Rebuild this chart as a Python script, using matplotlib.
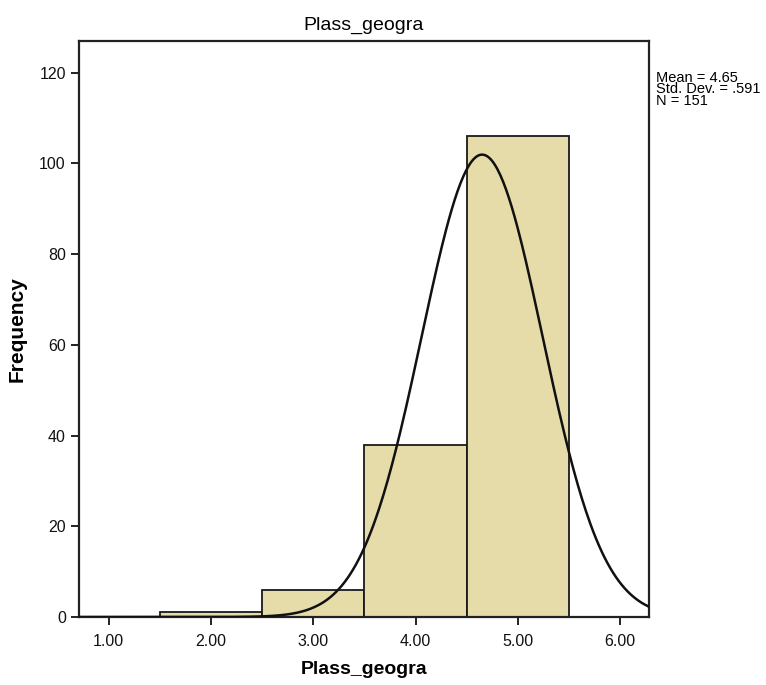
import numpy as np
import matplotlib
matplotlib.use('Agg')
import matplotlib.pyplot as plt

# Histogram bins (centres) and counts
bin_centers = [2.0, 3.0, 4.0, 5.0]
counts = [1, 6, 38, 106]
mean, std_dev, n = 4.65, 0.591, 151
bin_width = 1.0
x_ticks = [1.0, 2.0, 3.0, 4.0, 5.0, 6.0]
y_ticks = [0, 20, 40, 60, 80, 100, 120]

plt.rcParams['font.family'] = ['Liberation Sans Narrow', 'DejaVu Sans Condensed',
                               'Liberation Sans', 'DejaVu Sans']

fig = plt.figure(figsize=(7.66, 6.85), dpi=100)
ax = fig.add_axes([0.1031, 0.0993, 0.744, 0.841])

ax.bar(bin_centers, counts, width=bin_width, color='#e6dcaa',
       edgecolor='#1a1a1a', linewidth=1.3, zorder=2)

# fitted normal curve scaled to the histogram
x_lo, x_hi = 0.71, 6.28
xs = np.linspace(x_lo, x_hi, 400)
ys = n * bin_width / (std_dev * np.sqrt(2 * np.pi)) * np.exp(-0.5 * ((xs - mean) / std_dev) ** 2)
ax.plot(xs, ys, color='#111111', linewidth=1.8, zorder=3)

ax.set_xlim(x_lo, x_hi)
ax.set_ylim(0, 127)
ax.set_xticks(x_ticks)
ax.set_xticklabels([f'{t:.2f}' for t in x_ticks], fontsize=11.5)
ax.set_yticks(y_ticks)
ax.set_yticklabels([str(t) for t in y_ticks], fontsize=11.5)
ax.tick_params(axis='both', length=6, width=1.3, colors='#111111')
ax.tick_params(axis='x', pad=6)

for side in ['left', 'bottom', 'right', 'top']:
    ax.spines[side].set_linewidth(1.6)
    ax.spines[side].set_color('#222222')

ax.set_title('Plass_geogra', fontsize=14, pad=8)
ax.set_xlabel('Plass_geogra', fontsize=14, fontweight='bold', labelpad=9)
ax.set_ylabel('Frequency', fontsize=15, fontweight='bold', labelpad=9)

fig.text(0.857, 0.897, f'Mean = {mean:.2f}\nStd. Dev. = .591\nN = {n}',
         fontsize=10.5, va='top', ha='left', linespacing=0.78)

fig.savefig('out.png', dpi=100)
